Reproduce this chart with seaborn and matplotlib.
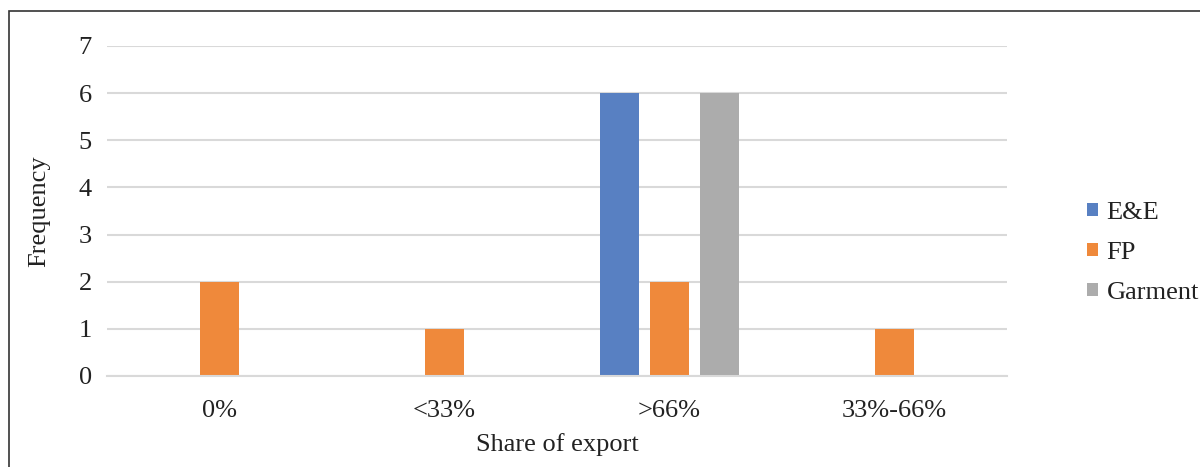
import matplotlib
matplotlib.use("Agg")
import matplotlib.pyplot as plt
import seaborn as sns
import pandas as pd
from matplotlib.patches import Rectangle, Patch

categories = ["0%", "<33%", ">66%", "33%-66%"]
series = ["E&E", "FP", "Garment"]
ee_values = [0, 0, 6, 0]
fp_values = [2, 1, 2, 1]
garment_values = [0, 0, 6, 0]
colors = ["#5880C2", "#EF893B", "#ACACAC"]

rows = []
for s, vals in zip(series, [ee_values, fp_values, garment_values]):
    for c, v in zip(categories, vals):
        rows.append({"Share": c, "Sector": s, "Frequency": v})
df = pd.DataFrame(rows)

sns.set_theme(style="white")
plt.rcParams["font.family"] = ["Liberation Serif", "DejaVu Serif"]

FS = 19
fig = plt.figure(figsize=(12, 4.67), dpi=100)
ax = fig.add_axes([107/1200, 1-376/467, 900/1200, (376-46)/467])

sns.barplot(data=df, x="Share", y="Frequency", hue="Sector", order=categories,
            hue_order=series, palette=colors, width=0.667, gap=0.21,
            saturation=1, ax=ax, legend=False, edgecolor="none")

ax.set_xlim(-0.5, 3.5)
ax.set_ylim(0, 7)
ax.set_yticks(range(0, 8))
ax.yaxis.grid(True, color="#D9D9D9", linewidth=1.5)
ax.set_axisbelow(True)
for s in ["top", "right", "left"]:
    ax.spines[s].set_visible(False)
ax.spines["bottom"].set_color("#D9D9D9")
ax.spines["bottom"].set_linewidth(1.5)
ax.tick_params(axis="y", length=0, pad=11, labelsize=FS, labelcolor="#222222")
ax.tick_params(axis="x", which="major", length=0, pad=17, labelsize=FS, labelcolor="#222222")
ax.set_xticks([-0.5, 0.5, 1.5, 2.5, 3.5], minor=True)
ax.tick_params(axis="x", which="minor", length=7, width=1.5, color="#D9D9D9")
ax.set_xlabel("Share of export", fontsize=FS, color="#222222", labelpad=8)
ax.set_ylabel("Frequency", fontsize=FS, color="#222222", labelpad=20)

handles = [Patch(facecolor=c, edgecolor="none") for c in colors]
fig.legend(handles, series, loc="center left", bbox_to_anchor=(1087/1200, 1-253/467),
           frameon=False, fontsize=FS, handlelength=0.42, handleheight=0.42,
           handletextpad=0.32, labelspacing=0.68, borderpad=0, borderaxespad=0,
           labelcolor="#222222")

fig.patches.append(Rectangle((9/1200, -0.1), 1.2, 1 - 11/467 + 0.1,
                             transform=fig.transFigure, fill=False,
                             edgecolor="#333333", linewidth=1.2, figure=fig))

fig.savefig("out.png", dpi=100)
